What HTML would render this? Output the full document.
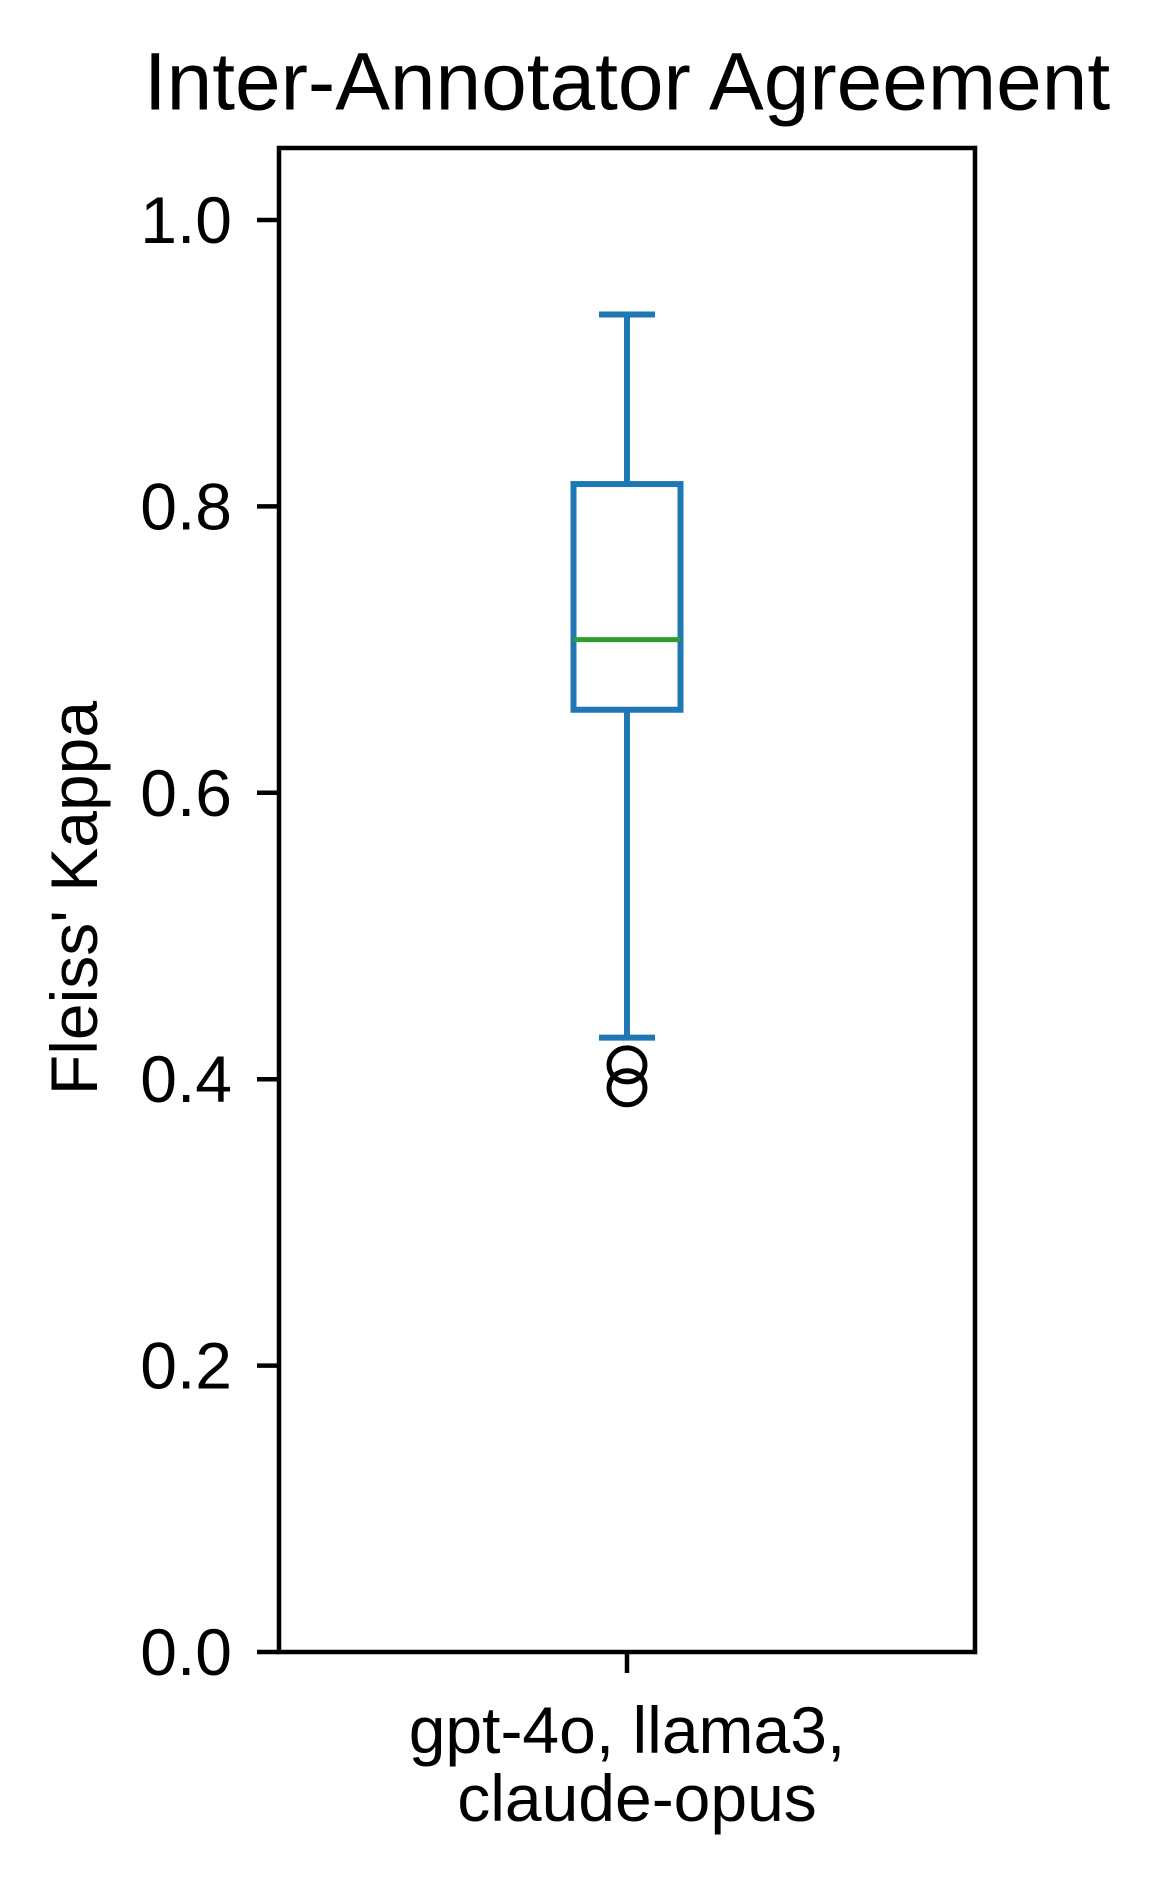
<!DOCTYPE html>
<html><head><meta charset="utf-8"><style>body{margin:0;background:#fff}svg{display:block}text{font-family:"Liberation Sans",Arial,sans-serif;fill:#000}</style></head>
<body>
<svg id="chart" width="1159" height="1887" viewBox="0 0 1159 1887" xmlns="http://www.w3.org/2000/svg">
<text x="627" y="82" font-size="82" text-anchor="middle" dominant-baseline="central">Inter-Annotator Agreement</text>
<text transform="translate(74,898) rotate(-90)" font-size="66" text-anchor="middle" dominant-baseline="central">Fleiss' Kappa</text>
<g id="yticks"></g>
<g id="marks"></g>
<rect x="279" y="148" width="696" height="1504" fill="none" stroke="#000" stroke-width="4.5"/>
<line x1="627" y1="1652" x2="627" y2="1673" stroke="#000" stroke-width="4.5"/>
<text x="627" y="1730" font-size="66" text-anchor="middle" dominant-baseline="central">gpt-4o, llama3,</text>
<text x="637" y="1798" font-size="66" text-anchor="middle" dominant-baseline="central">claude-opus</text>
</svg>
<script>
const yTicks = [0, 0.2, 0.4, 0.6, 0.8, 1.0];
const yTickLabels = ["0.0", "0.2", "0.4", "0.6", "0.8", "1.0"];
const whiskerLow = 0.429;
const q1 = 0.658;
const median = 0.707;
const q3 = 0.8156;
const whiskerHigh = 0.934;
const outliers = [0.41, 0.394];

const NS = "http://www.w3.org/2000/svg";
function y(v){ return 1652 - v * 1432; }
const cx = 627, bw = 107, cw = 56;
function mk(tag, attrs, parent){
  const e = document.createElementNS(NS, tag);
  for (const k in attrs) e.setAttribute(k, attrs[k]);
  parent.appendChild(e); return e;
}
const yt = document.getElementById('yticks');
yTicks.forEach((v,i)=>{
  const l = mk('line',{x1:257,x2:279,y1:y(v),y2:y(v),stroke:'#000','stroke-width':4.5},yt);
  
  
  const t = mk('text',{x:232,y:y(v),'font-size':66,'text-anchor':'end','dominant-baseline':'central'},yt);
  t.textContent = yTickLabels[i];
  
  
});
const g = document.getElementById('marks');
const C = '#1f77b4';
const w1 = mk('line',{x1:cx,x2:cx,y1:y(q1),y2:y(whiskerLow),stroke:C,'stroke-width':6},g);


const w2 = mk('line',{x1:cx,x2:cx,y1:y(q3),y2:y(whiskerHigh),stroke:C,'stroke-width':6},g);


const c1 = mk('line',{x1:cx-cw/2,x2:cx+cw/2,y1:y(whiskerLow),y2:y(whiskerLow),stroke:C,'stroke-width':6},g);


const c2 = mk('line',{x1:cx-cw/2,x2:cx+cw/2,y1:y(whiskerHigh),y2:y(whiskerHigh),stroke:C,'stroke-width':6},g);


const box = mk('rect',{x:cx-bw/2,y:y(q3),width:bw,height:y(q1)-y(q3),fill:'none',stroke:C,'stroke-width':6},g);


const med = mk('line',{x1:cx-bw/2,x2:cx+bw/2,y1:y(median),y2:y(median),stroke:'#2ca02c','stroke-width':5},g);


outliers.forEach(v=>{
  const o = mk('ellipse',{cx:cx,cy:y(v),rx:18,ry:17,fill:'none',stroke:'#000','stroke-width':5},g);
  
  
});
</script>
</body></html>
